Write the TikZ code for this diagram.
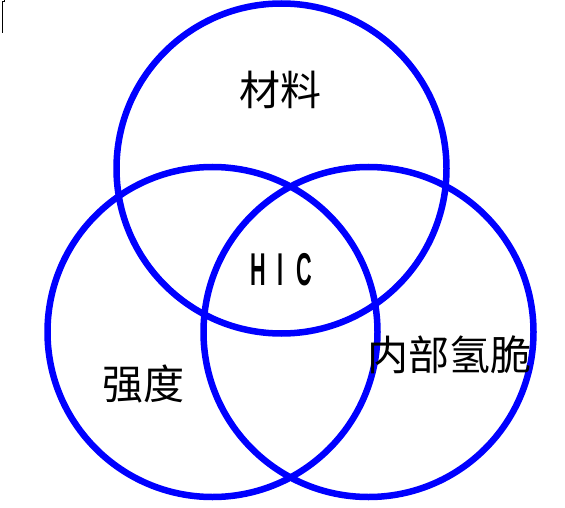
\documentclass[tikz,border=0pt]{standalone}
\usepackage{fontspec}
\setmainfont{Liberation Sans}
\newfontfamily\cjk{Noto Sans CJK SC}
\begin{document}
\begin{tikzpicture}[x=1pt,y=-1pt,
  ring/.style={circle,draw=blue,line width=6.5pt,minimum size=330pt,inner sep=0pt},
  cjklabel/.style={font=\cjk\fontsize{41}{45}\selectfont,inner sep=0pt,anchor=center},
  abbr/.style={font=\bfseries\fontsize{46}{50}\selectfont,inner sep=0pt,anchor=center}]
\useasboundingbox (0,0) rectangle (565,508);
\node[ring] (top) at (281.5,168.5) {};
\node[ring] (left) at (212.5,332) {};
\node[ring] (right) at (368.5,332) {};
\node[cjklabel] (mat) at (280,90) {材料};
\node[cjklabel] (str) at (143,384) {强度};
\node[cjklabel] (hyd) at (449,355) {内部氢脆};
\node[abbr] (hic) at (281,270) {\scalebox{0.47}[1]{H\hspace{26pt}I\hspace{26pt}C}};
\draw[line width=1pt] (2,33) -- (2,2) -- (4,2) -- (4,0);
\end{tikzpicture}
\end{document}
